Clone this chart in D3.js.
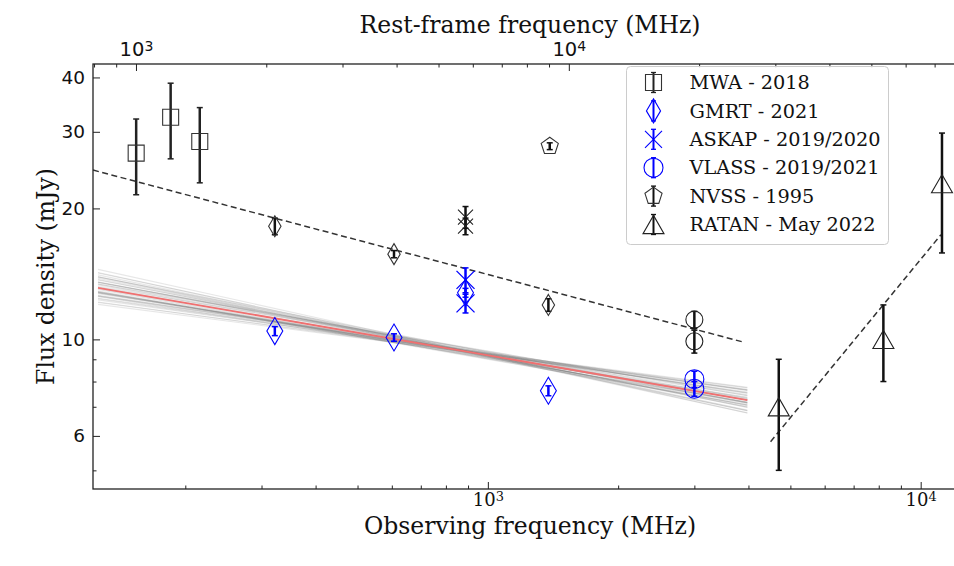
<!DOCTYPE html>
<html>
<head>
<meta charset="utf-8">
<script src="https://cdn.jsdelivr.net/npm/d3@7"></script>
<style>
  body { margin: 0; background: #fff; }
  svg { display: block; }
</style>
</head>
<body>
<div id="chart"></div>
<script>
"use strict";

// ---- data ----
var onePlusZ = 6.5;   // rest-frame / observed

var mwaFreq = [154, 185, 216];
var mwaFlux = [26.8, 32.4, 28.5];
var mwaErr = [5.3, 6.4, 5.6];

var gmrtFreq = [322, 607, 888, 1380];
var gmrtFlux = [10.45, 10.1, 12.8, 7.62];
var gmrtErr = [0.25, 0.2, 0.3, 0.2];

var gmrtOldFreq = [322, 607, 1380];
var gmrtOldFlux = [18.2, 15.7, 12.0];
var gmrtOldErr = [0.8, 0.3, 0.4];

var askapFreq = [888, 888];
var askapFlux = [13.7, 12.1];
var askapErr = [0.9, 0.6];

var askapOldFreq = [888, 888];
var askapOldFlux = [19.1, 18.2];
var askapOldErr = [1.1, 0.8];

var vlassFreq = [3000, 3000];
var vlassFlux = [8.1, 7.7];
var vlassErr = [0.35, 0.3];

var vlassOldFreq = [3000, 3000];
var vlassOldFlux = [11.1, 9.9];
var vlassOldErr = [0.5, 0.6];

var nvssFreq = [1390];
var nvssFlux = [27.8];
var nvssErr = [0.5];

var ratanFreq = [4700, 8200, 11200];
var ratanFlux = [7.0, 10.0, 22.8];
var ratanErr = [2.0, 2.0, 7.0];

// fitted power laws (end points on the log-log plot)
var lowFitFreq = [122.4, 3890];
var lowFitFlux = [24.5, 9.86];
var highFitFreq = [4500, 11140];
var highFitFlux = [5.82, 17.4];
var bestFitFreq = [125.7, 3977];
var bestFitFlux = [13.14, 7.25];

// posterior samples: flux at 1 GHz (mJy) and spectral index
var sampleS1 = [9.20, 9.15, 9.25, 9.10, 9.30, 9.18, 9.22, 9.05, 9.35, 9.12,
                9.28, 9.20, 9.08, 9.32, 9.16, 9.24, 9.00, 9.40, 9.19, 9.21,
                9.13, 9.27, 9.10, 9.30, 9.18, 9.23, 9.06, 9.34, 9.15, 9.25,
                9.20, 9.11, 9.29, 9.17, 9.22, 9.02, 9.38, 9.14, 9.26, 9.19];
var sampleAlpha = [-0.172, -0.190, -0.150, -0.205, -0.140, -0.160, -0.185, -0.168, -0.178, -0.215,
                   -0.130, -0.200, -0.176, -0.145, -0.195, -0.158, -0.174, -0.171, -0.210, -0.135,
                   -0.165, -0.188, -0.155, -0.180, -0.220, -0.128, -0.170, -0.192, -0.162, -0.148,
                   -0.173, -0.184, -0.152, -0.198, -0.143, -0.177, -0.166, -0.208, -0.138, -0.182];

var yMajor = [6, 10, 20, 30, 40];
var yMinor = [5, 7, 8, 9];
var xMajor = [1e3, 1e4];
var xMinor = [200, 300, 400, 500, 600, 700, 800, 900, 2000, 3000, 4000, 5000, 6000, 7000, 8000, 9000];
var topMinor = [800, 900, 2000, 3000, 4000, 5000, 6000, 7000, 8000, 9000,
                20000, 30000, 40000, 50000, 60000, 70000, 80000];

var legendLabels = ["MWA - 2018", "GMRT - 2021", "ASKAP - 2019/2020",
                    "VLASS - 2019/2021", "NVSS - 1995", "RATAN - May 2022"];

// ---- layout ----
var width = 954, height = 566;
var margin = {left: 93, right: 967, top: 64, bottom: 489};
var serif = "'DejaVu Serif', serif";
var sans = "'DejaVu Sans', sans-serif";

var svg = d3.select("#chart").append("svg")
  .attr("width", width).attr("height", height);

var x = d3.scaleLog().domain([122.4, 12794]).range([margin.left, margin.right]);
var xTop = d3.scaleLog().domain([122.4 * onePlusZ, 12794 * onePlusZ]).range([margin.left, margin.right]);
var y = d3.scaleLog().domain([4.53, 42.95]).range([margin.bottom, margin.top]);

var plot = svg.append("g");
plot.append("clipPath").attr("id", "clip").append("rect")
  .attr("x", margin.left).attr("y", margin.top)
  .attr("width", margin.right - margin.left).attr("height", margin.bottom - margin.top);
var inner = plot.append("g").attr("clip-path", "url(#clip)");

// marker shapes, s = overall size in px
function markerPath(type, s) {
  var h = s / 2, p = d3.path(), i, a;
  if (type === "square") {
    p.rect(-h, -h, s, s);
  } else if (type === "diamond") {
    p.moveTo(0, -h); p.lineTo(h * 0.59, 0); p.lineTo(0, h); p.lineTo(-h * 0.59, 0); p.closePath();
  } else if (type === "x") {
    p.moveTo(-h, -h); p.lineTo(h, h); p.moveTo(-h, h); p.lineTo(h, -h);
  } else if (type === "circle") {
    p.moveTo(h, 0); p.arc(0, 0, h, 0, 2 * Math.PI);
  } else if (type === "pentagon") {
    for (i = 0; i < 5; i++) {
      a = -Math.PI / 2 + i * 2 * Math.PI / 5;
      if (i === 0) p.moveTo(h * Math.cos(a), h * Math.sin(a));
      else p.lineTo(h * Math.cos(a), h * Math.sin(a));
    }
    p.closePath();
  } else if (type === "triangle") {
    p.moveTo(0, -h * 0.87); p.lineTo(h, h * 0.87); p.lineTo(-h, h * 0.87); p.closePath();
  }
  return p.toString();
}

// ---- fit lines ----
var line = d3.line().x(function (d) { return x(d[0]); }).y(function (d) { return y(d[1]); });

sampleS1.forEach(function (s1, i) {
  var pts = bestFitFreq.map(function (f) { return [f, s1 * Math.pow(f / 1000, sampleAlpha[i])]; });
  inner.append("path").attr("d", line(pts))
    .attr("fill", "none").attr("stroke", "#707070").attr("stroke-opacity", 0.17).attr("stroke-width", 1.1);
});

inner.append("path").attr("d", line(d3.zip(bestFitFreq, bestFitFlux)))
  .attr("fill", "none").attr("stroke", "#f07070").attr("stroke-width", 1.8);

[[lowFitFreq, lowFitFlux], [highFitFreq, highFitFlux]].forEach(function (fit) {
  inner.append("path").attr("d", line(d3.zip(fit[0], fit[1])))
    .attr("fill", "none").attr("stroke", "#333").attr("stroke-width", 1.5)
    .attr("stroke-dasharray", "6,3.5");
});

// ---- data points ----
function errorSeries(freq, flux, err, opt) {
  var g = inner.append("g");
  freq.forEach(function (f, i) {
    var cx = x(f), y0 = y(flux[i] - err[i]), y1 = y(flux[i] + err[i]);
    g.append("line").attr("x1", cx).attr("x2", cx).attr("y1", y0).attr("y2", y1)
      .attr("stroke", opt.bar).attr("stroke-width", opt.bw);
    [y0, y1].forEach(function (yy) {
      g.append("line").attr("x1", cx - 3).attr("x2", cx + 3).attr("y1", yy).attr("y2", yy)
        .attr("stroke", opt.bar).attr("stroke-width", 1.5);
    });
    g.append("path").attr("d", markerPath(opt.shape, opt.size))
      .attr("transform", "translate(" + cx + "," + y(flux[i]) + ")")
      .attr("fill", "none").attr("stroke", opt.color).attr("stroke-width", opt.lw || 1.1);
  });
}

errorSeries(mwaFreq, mwaFlux, mwaErr, {shape: "square", size: 16, color: "#333", bar: "#222", bw: 2.5});
errorSeries(gmrtOldFreq, gmrtOldFlux, gmrtOldErr, {shape: "diamond", size: 21, color: "#333", bar: "#111", bw: 2.5});
errorSeries(gmrtFreq, gmrtFlux, gmrtErr, {shape: "diamond", size: 27, color: "blue", bar: "blue", bw: 2.5});
errorSeries(askapOldFreq, askapOldFlux, askapOldErr, {shape: "x", size: 15, color: "#222", bar: "#111", bw: 2.5});
errorSeries(askapFreq, askapFlux, askapErr, {shape: "x", size: 18, color: "blue", bar: "blue", bw: 2.5, lw: 1.3});
errorSeries(vlassOldFreq, vlassOldFlux, vlassOldErr, {shape: "circle", size: 17, color: "#222", bar: "#111", bw: 2.5});
errorSeries(vlassFreq, vlassFlux, vlassErr, {shape: "circle", size: 19, color: "blue", bar: "blue", bw: 2.5});
errorSeries(nvssFreq, nvssFlux, nvssErr, {shape: "pentagon", size: 18, color: "#333", bar: "#111", bw: 2.5});
errorSeries(ratanFreq, ratanFlux, ratanErr, {shape: "triangle", size: 21, color: "#222", bar: "#111", bw: 2.5});

// ---- axes ----
function styleAxis(g, font, size) {
  g.select(".domain").remove();
  g.selectAll("line").attr("stroke", "#222").attr("stroke-width", 1);
  g.selectAll("text").attr("font-family", font).attr("font-size", size).attr("fill", "#111");
}

function powerLabels(g, rise) {
  g.selectAll("text").each(function (d) {
    var t = d3.select(this).text("");
    t.append("tspan").text("10");
    t.append("tspan").attr("dy", rise).attr("font-size", "0.72em").text(Math.round(Math.log10(d)));
  });
}

var xb = svg.append("g").attr("transform", "translate(0," + margin.bottom + ")");
xb.call(d3.axisBottom(x).tickValues(xMinor).tickSize(-3.5).tickFormat(""));
var xbMaj = svg.append("g").attr("transform", "translate(0," + margin.bottom + ")")
  .call(d3.axisBottom(x).tickValues(xMajor).tickSize(-7).tickPadding(4));
styleAxis(xb, serif, 18);
styleAxis(xbMaj, serif, 18);
powerLabels(xbMaj, "-0.4em");

var xt = svg.append("g").attr("transform", "translate(0," + margin.top + ")");
xt.call(d3.axisTop(xTop).tickValues(topMinor).tickSize(-3.5).tickFormat(""));
var xtMaj = svg.append("g").attr("transform", "translate(0," + margin.top + ")")
  .call(d3.axisTop(xTop).tickValues(xMajor).tickSize(-7).tickPadding(8));
styleAxis(xt, sans, 19.5);
styleAxis(xtMaj, sans, 19.5);
powerLabels(xtMaj, "-0.33em");

var yl = svg.append("g").attr("transform", "translate(" + margin.left + ",0)");
yl.call(d3.axisLeft(y).tickValues(yMinor).tickSize(-3.5).tickFormat(""));
var ylMaj = svg.append("g").attr("transform", "translate(" + margin.left + ",0)")
  .call(d3.axisLeft(y).tickValues(yMajor).tickSize(-7).tickPadding(8).tickFormat(d3.format("d")));
styleAxis(yl, sans, 18.5);
styleAxis(ylMaj, sans, 18.5);

// frame
svg.append("rect")
  .attr("x", margin.left).attr("y", margin.top)
  .attr("width", margin.right - margin.left).attr("height", margin.bottom - margin.top)
  .attr("fill", "none").attr("stroke", "#222").attr("stroke-width", 1.3);

// axis titles
var midX = (margin.left + margin.right) / 2;
svg.append("text").attr("x", midX).attr("y", 534).attr("text-anchor", "middle")
  .attr("font-family", serif).attr("font-size", 23.5).attr("fill", "#111")
  .text("Observing frequency (MHz)");
svg.append("text").attr("x", midX).attr("y", 33).attr("text-anchor", "middle")
  .attr("font-family", serif).attr("font-size", 23.5).attr("fill", "#111")
  .text("Rest-frame frequency (MHz)");
svg.append("text")
  .attr("transform", "translate(54," + (margin.top + margin.bottom) / 2 + ") rotate(-90)")
  .attr("text-anchor", "middle")
  .attr("font-family", serif).attr("font-size", 23.5).attr("fill", "#111")
  .text("Flux density (mJy)");

// ---- legend ----
var legendStyle = [
  {shape: "square", size: 16, color: "#333", bar: "#222"},
  {shape: "diamond", size: 24, color: "blue", bar: "blue"},
  {shape: "x", size: 17, color: "blue", bar: "blue"},
  {shape: "circle", size: 19, color: "blue", bar: "blue"},
  {shape: "pentagon", size: 18, color: "#333", bar: "#111"},
  {shape: "triangle", size: 21, color: "#222", bar: "#111"}
];

var legend = svg.append("g").attr("transform", "translate(626.5,66.5)");
legend.append("rect").attr("width", 262).attr("height", 178).attr("rx", 4)
  .attr("fill", "#fff").attr("fill-opacity", 0.8).attr("stroke", "#ccc");

legendLabels.forEach(function (label, i) {
  var st = legendStyle[i], cy = 16 + i * 28.4;
  var item = legend.append("g").attr("transform", "translate(27," + cy + ")");
  item.append("line").attr("y1", -10).attr("y2", 10).attr("stroke", st.bar).attr("stroke-width", 2);
  item.append("line").attr("x1", -2.5).attr("x2", 2.5).attr("y1", -10).attr("y2", -10).attr("stroke", st.bar).attr("stroke-width", 1.3);
  item.append("line").attr("x1", -2.5).attr("x2", 2.5).attr("y1", 10).attr("y2", 10).attr("stroke", st.bar).attr("stroke-width", 1.3);
  item.append("path").attr("d", markerPath(st.shape, st.size))
    .attr("fill", "none").attr("stroke", st.color).attr("stroke-width", 1.1);
  legend.append("text").attr("x", 63).attr("y", cy).attr("dy", "0.35em")
    .attr("font-family", serif).attr("font-size", 19.3).attr("fill", "#111")
    .text(label);
});
</script>
</body>
</html>
